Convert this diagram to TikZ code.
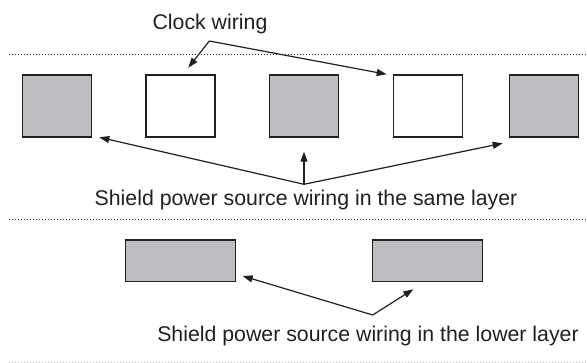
\documentclass[tikz,border=0pt]{standalone}
\usepackage{fontspec}
\setmainfont{Liberation Sans}
\usetikzlibrary{arrows.meta}
\definecolor{ink}{HTML}{231F20}
\definecolor{boxgray}{HTML}{BDBEC1}
\definecolor{lightdot}{HTML}{A8A8A8}
\begin{document}
\begin{tikzpicture}[x=1pt,y=-1pt,
  every node/.style={inner sep=0pt,outer sep=0pt},
  lbl/.style={text=ink,font=\fontsize{21.3}{25}\selectfont,anchor=base},
  cell/.style={draw=ink,line width=1.3pt,minimum width=69pt,minimum height=62pt},
  shieldcell/.style={cell,fill=boxgray},
  clockcell/.style={cell,fill=white},
  lowcell/.style={draw=ink,line width=1.3pt,fill=boxgray,minimum width=110pt,minimum height=41.7pt},
  arr/.style={draw=ink,line width=1.2pt,-{Triangle[length=10pt,width=7pt]}},
  dotline/.style={draw=ink,line width=1.1pt,dash pattern=on 1.1pt off 1.9pt},
  lightline/.style={draw=lightdot,line width=0.9pt,dash pattern=on 1.1pt off 1.9pt}]
\useasboundingbox (0,0) rectangle (587,363);

% separators
\coordinate (d1a) at (9,54.5);  \coordinate (d1b) at (587,54.5);
\coordinate (d2a) at (9,219.3); \coordinate (d2b) at (587,219.3);
\coordinate (d3a) at (9,362);   \coordinate (d3b) at (587,362);
\draw[dotline] (d1a) -- (d1b);
\draw[dotline] (d2a) -- (d2b);
\draw[lightline] (d3a) -- (d3b);

% top row of cells
\node[shieldcell] (b1) at (57.2,106) {};
\node[clockcell]  (b2) at (180.5,106) {};
\node[shieldcell] (b3) at (304.2,106) {};
\node[clockcell]  (b4) at (427.8,106) {};
\node[shieldcell] (b5) at (544,106) {};

% lower layer
\node[lowcell] (l1) at (180.7,260.9) {};
\node[lowcell] (l2) at (427.7,260.9) {};

% labels
\node[lbl] (tclock) at (210,30) {Clock wiring};
\node[lbl] (tsame) at (306,206) {Shield power source wiring in the same layer};
\node[lbl] (tlow) at (368,342) {Shield power source wiring in the lower layer};

% clock wiring arrows
\coordinate (cj) at (209.3,41);
\coordinate (ct1) at (188.3,67.7);
\coordinate (ct2) at (386.7,74.3);
\draw[arr] (cj) -- (ct1);
\draw[arr] (cj) -- (ct2);

% same-layer shield arrows
\coordinate (sj) at (304,184.3);
\coordinate (st1) at (99.3,137.3);
\coordinate (st2) at (304,151.7);
\coordinate (st3) at (502.7,143.3);
\draw[arr] (sj) -- (st1);
\draw[arr] (sj) -- (st2);
\draw[arr] (sj) -- (st3);

% lower-layer shield arrows
\coordinate (lj) at (372.7,315);
\coordinate (lt1) at (242.7,276);
\coordinate (lt2) at (413.3,289.3);
\draw[arr] (lj) -- (lt1);
\draw[arr] (lj) -- (lt2);
\end{tikzpicture}
\end{document}
